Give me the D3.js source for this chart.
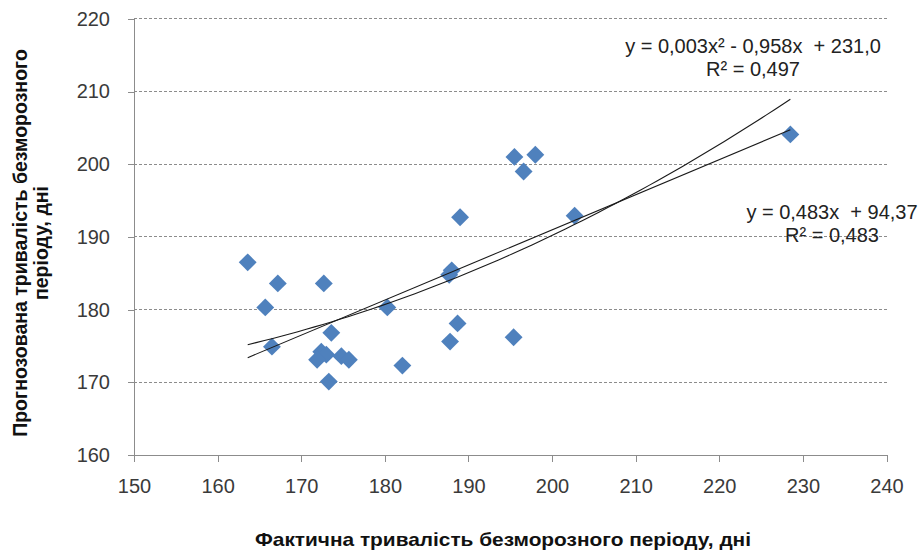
<!DOCTYPE html>
<html>
<head>
<meta charset="utf-8">
<script src="https://cdn.jsdelivr.net/npm/d3@7"></script>
<style>
  body { margin: 0; background: #fff; }
  text { font-family: "Liberation Sans", Arial, sans-serif; }
</style>
</head>
<body>
<div id="chart"></div>
<script>
// actual vs predicted frost-free period, days
var actual    = [163.6, 167.2, 165.7, 172.7, 166.5, 173.6, 172.4, 173.0, 171.9, 174.8, 175.7, 173.3, 180.3,
                 182.1, 187.7, 188.0, 188.7, 187.8, 195.4, 189.0, 195.5, 196.6, 198.0, 202.7, 228.5];
var predicted = [186.5, 183.6, 180.3, 183.6, 174.9, 176.8, 174.2, 173.8, 173.1, 173.6, 173.1, 170.1, 180.3,
                 172.3, 184.8, 185.4, 178.1, 175.6, 176.2, 192.7, 201.0, 199.0, 201.3, 192.9, 204.1];

var xTicks = [150, 160, 170, 180, 190, 200, 210, 220, 230, 240];
var yTicks = [160, 170, 180, 190, 200, 210, 220];

// trend lines (coefficients as drawn)
var linCoef  = [0.483, 94.37];
var polyCoef = [0.00377, -0.958, 231.0];
var linLabel  = ["y = 0,483x  + 94,37", "R² = 0,483"];
var polyLabel = ["y = 0,003x² - 0,958x  + 231,0", "R² = 0,497"];

var xTitle = "Фактична тривалість безморозного періоду, дні";
var yTitle = ["Прогнозована тривалість безморозного", "періоду, дні"];

var width = 920, height = 551;
var svg = d3.select("#chart").append("svg")
  .attr("width", width)
  .attr("height", height);

var x = d3.scaleLinear().domain([150, 240]).range([134, 886.5]);
var y = d3.scaleLinear().domain([160, 220]).range([455, 18.8]);

// gridlines
svg.append("g")
  .selectAll("line")
  .data(yTicks.slice(1))
  .enter()
  .append("line")
  .attr("x1", x(150))
  .attr("x2", x(240))
  .attr("y1", function(d) { return y(d); })
  .attr("y2", function(d) { return y(d); })
  .attr("stroke", "#8c8c8c")
  .attr("stroke-width", 1)
  .attr("stroke-dasharray", "3,2")
  .attr("shape-rendering", "crispEdges");

// x axis
var gx = svg.append("g")
  .attr("transform", "translate(0," + y(160) + ")")
  .call(d3.axisBottom(x).tickValues(xTicks).tickSizeOuter(0).tickSize(7).tickPadding(17));
// y axis
var gy = svg.append("g")
  .attr("transform", "translate(" + x(150) + ",0)")
  .call(d3.axisLeft(y).tickValues(yTicks).tickSizeOuter(0).tickSize(6).tickPadding(18));

[gx, gy].forEach(function(g) {
  g.select(".domain").attr("stroke", "#8c8c8c").attr("shape-rendering", "crispEdges");
  g.selectAll(".tick line").attr("stroke", "#8c8c8c").attr("shape-rendering", "crispEdges");
  g.selectAll(".tick text")
    .attr("fill", "#3a3a3a")
    .style("font-size", "20px")
    .style("font-family", "'Liberation Sans', Arial, sans-serif");
});

// points
var pts = actual.map(function(d, i) { return [d, predicted[i]]; });
svg.append("g")
  .selectAll("path")
  .data(pts)
  .enter()
  .append("path")
  .attr("d", d3.symbol().type(d3.symbolSquare).size(160))
  .attr("transform", function(d) { return "translate(" + x(d[0]) + "," + y(d[1]) + ") rotate(45)"; })
  .attr("fill", "#4f81bd");

// trend lines
var xr = d3.extent(actual);
var line = d3.line()
  .x(function(d) { return x(d); });

svg.append("path")
  .datum(xr)
  .attr("d", line.y(function(d) { return y(linCoef[0] * d + linCoef[1]); }))
  .attr("fill", "none")
  .attr("stroke", "#1a1a1a")
  .attr("stroke-width", 1.1);

var xs = d3.range(xr[0], xr[1], 1).concat([xr[1]]);
svg.append("path")
  .datum(xs)
  .attr("d", line.y(function(d) { return y(polyCoef[0] * d * d + polyCoef[1] * d + polyCoef[2]); }))
  .attr("fill", "none")
  .attr("stroke", "#1a1a1a")
  .attr("stroke-width", 1.1);

// trend labels
function label(lines, cx, y0) {
  svg.append("g").selectAll("text")
    .data(lines)
    .enter()
    .append("text")
    .attr("x", cx)
    .attr("y", function(d, i) { return y0 + i * 23; })
    .attr("text-anchor", "middle")
    .style("font-size", "20px")
    .style("white-space", "pre")
    .attr("fill", "#222")
    .text(function(d) { return d; });
}
label(polyLabel, 753, 52.5);
label(linLabel, 832, 219);

// axis titles
svg.append("text")
  .attr("x", 503)
  .attr("y", 546)
  .attr("text-anchor", "middle")
  .attr("textLength", 496)
  .attr("lengthAdjust", "spacingAndGlyphs")
  .style("font-size", "18.5px")
  .style("font-weight", "bold")
  .attr("fill", "#111")
  .text(xTitle);

svg.append("g")
  .attr("transform", "translate(0,243) rotate(-90)")
  .selectAll("text")
  .data(yTitle)
  .enter()
  .append("text")
  .attr("x", 0)
  .attr("y", function(d, i) { return 27 + i * 21; })
  .attr("text-anchor", "middle")
  .style("font-size", "19.5px")
  .style("font-weight", "bold")
  .attr("fill", "#111")
  .text(function(d) { return d; });
</script>
</body>
</html>
